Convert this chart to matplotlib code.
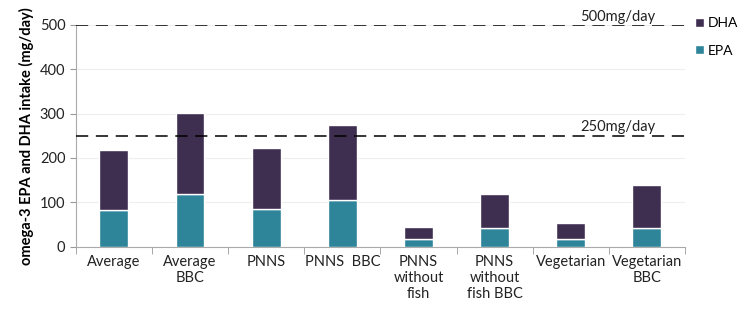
import matplotlib.pyplot as plt
import numpy as np

plt.rcParams['font.family'] = ['Lato', 'DejaVu Sans']

groups = ['Average', 'Average\nBBC', 'PNNS', 'PNNS  BBC', 'PNNS\nwithout\nfish',
          'PNNS\nwithout\nfish BBC', 'Vegetarian', 'Vegetarian\nBBC']
epa = [83, 119, 84, 105, 17, 41, 17, 41]
total = [218, 301, 222, 274, 45, 118, 53, 139]
dha = [t - e for t, e in zip(total, epa)]
limits = [250, 500]
limit_labels = ['250mg/day', '500mg/day']

c_dha = '#3e2f51'
c_epa = '#2e8499'

fig = plt.figure(figsize=(7.43, 3.15), dpi=100)
ax = fig.add_axes([0.102, 0.217, 0.82, 0.704])

x = np.arange(len(groups))
ax.bar(x, epa, 0.38, color=c_epa, edgecolor='white', linewidth=1, label='EPA', zorder=3)
ax.bar(x, dha, 0.38, bottom=epa, color=c_dha, edgecolor='white', linewidth=1, label='DHA', zorder=3)

for v, lab in zip(limits, limit_labels):
    ax.axhline(v, color='black', linestyle=(0, (8, 5)), linewidth=1.1, zorder=4)
    ax.text(6.12, v + 3, lab, fontsize=10.5, color='#222222', va='bottom', ha='left', zorder=5)

ax.set_xlim(-0.5, 7.5)
ax.set_ylim(0, 500)
ax.set_yticks([0, 100, 200, 300, 400, 500])
ax.yaxis.grid(True, color='#eeeeee', linewidth=0.8, zorder=0)
ax.set_xticks(x)
ax.set_xticklabels(groups, fontsize=10.5, color='#222222')
ax.set_xticks(np.arange(-0.5, 8, 1), minor=True)
ax.tick_params(axis='x', which='major', length=0, pad=6)
ax.tick_params(axis='x', which='minor', length=5, color='#999999')
ax.tick_params(axis='y', labelsize=10.5, labelcolor='#222222', length=4, color='#999999')
for s in ['top', 'right']:
    ax.spines[s].set_visible(False)
for s in ['left', 'bottom']:
    ax.spines[s].set_color('#aaaaaa')

ax.set_ylabel('omega-3 EPA and DHA intake (mg/day)', fontsize=10.5, fontweight='bold')

h, l = ax.get_legend_handles_labels()
fig.legend(h[::-1], l[::-1], loc='upper left', bbox_to_anchor=(0.936, 0.945),
           frameon=False, fontsize=10, handlelength=0.6, handleheight=0.6,
           handletextpad=0.3, labelspacing=1.1, borderpad=0, borderaxespad=0)

fig.savefig('out.png', dpi=100)
